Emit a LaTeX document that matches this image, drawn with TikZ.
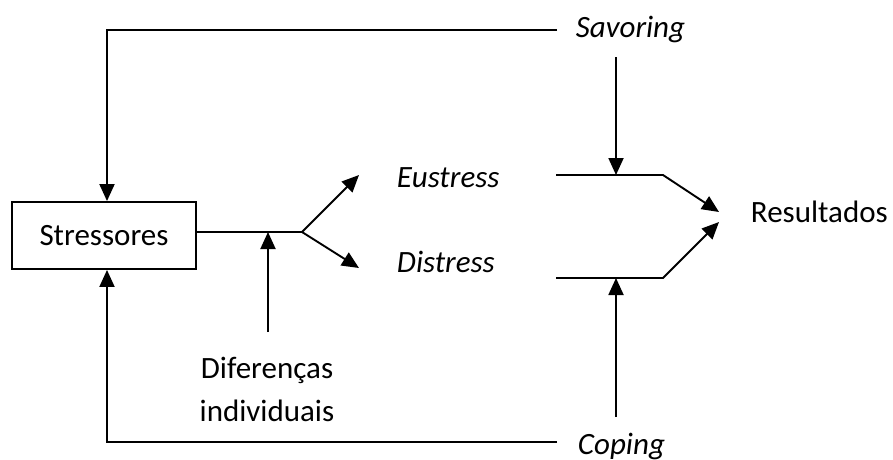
\documentclass[tikz,border=0pt]{standalone}
\usepackage{fontspec}
\setmainfont{Carlito}
\usetikzlibrary{arrows.meta}
\begin{document}
\begin{tikzpicture}[x=1pt,y=-1pt,
  line width=1.9pt,
  tip/.style={-{Triangle[width=15pt,length=17pt]}},
  lbl/.style={inner sep=0pt,font=\fontsize{31}{43}\selectfont},
  box/.style={draw,line width=1.9pt,inner sep=0pt,minimum width=184pt,minimum height=67pt,
              font=\fontsize{31}{36}\selectfont}]
\useasboundingbox (0,0) rectangle (893,459);

% labels
\node[box] (str) at (104,235.5) {Stressores};
\node[lbl,anchor=base west] (sav) at (575,37) {\itshape Savoring};
\node[lbl,anchor=base west] (eu) at (396,187) {\itshape Eustress};
\node[lbl,anchor=base west] (di) at (396,272) {\itshape Distress};
\node[lbl,anchor=base west] (res) at (750,222) {Resultados};
\node[lbl,anchor=base west] (cop) at (577,454) {\itshape Coping};
\node[lbl,anchor=north,align=center] (dif) at (267,356) {Diferenças\\individuais};

% junction points
\coordinate (savL) at (557,30);
\coordinate (copL) at (557,442);
\coordinate (br) at (302,232);
\coordinate (euIn) at (359,175);
\coordinate (diIn) at (359,268);
\coordinate (difTop) at (268,332);
\coordinate (eL) at (556,175);
\coordinate (eR) at (663,175);
\coordinate (dL) at (556,278);
\coordinate (dR) at (663,278);
\coordinate (resUp) at (719,212);
\coordinate (resDn) at (719,222);
\coordinate (savBot) at (616,57);
\coordinate (copTop) at (616,417);

% feedback loops
\draw[tip] (savL) -| ([xshift=3]str.north);
\draw[tip] (copL) -| ([xshift=3]str.south);

% stressors split into eustress and distress
\draw (str.east |- br) -- (br);
\draw[tip] (br) -- (euIn);
\draw[tip] (br) -- (diIn);
\draw[tip] (difTop) -- (difTop |- br);

% outcomes
\draw[tip] (eL) -- (eR) -- (resUp);
\draw[tip] (dL) -- (dR) -- (resDn);
\draw[tip] (savBot) -- (savBot |- eL);
\draw[tip] (copTop) -- (copTop |- dL);
\end{tikzpicture}
\end{document}
